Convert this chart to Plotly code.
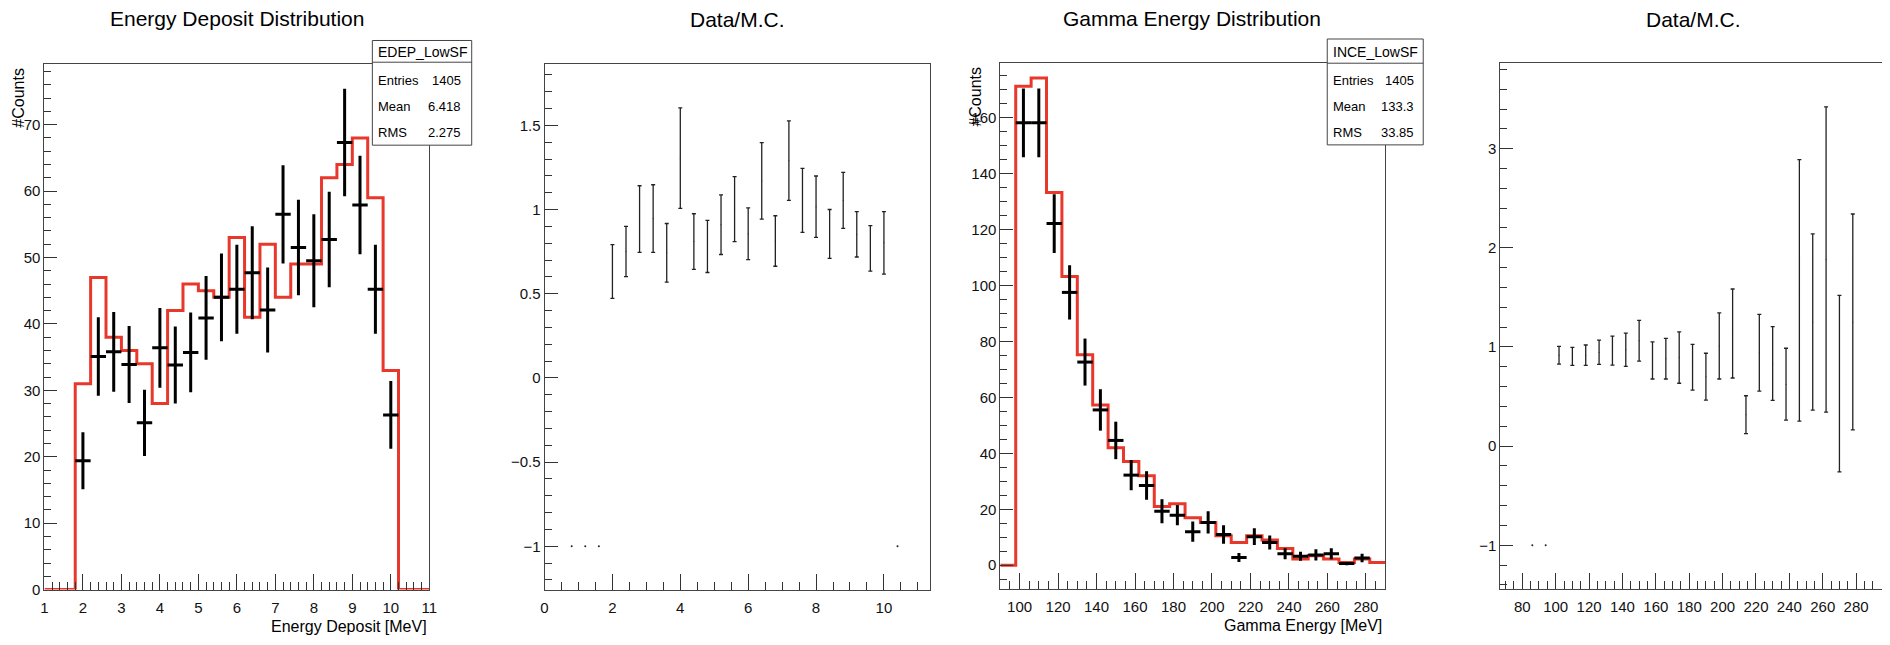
import numpy as np
import plotly.graph_objects as go

W, H = 1890, 645
FONT = "Liberation Sans, Arial, Helvetica, sans-serif"
RED = "#e8382c"

# ---------------- Panel 1: Energy deposit ----------------
edep_edges = np.round(np.linspace(1.0, 11.0, 26), 3)
edep_mc = [0, 0, 31, 47, 38, 36, 34, 28, 42, 46, 45, 44, 53, 41, 52, 44, 49, 49,
           62, 64, 68, 59, 33, 0, 0]
edep_x = [2.0, 2.4, 2.8, 3.2, 3.6, 4.0, 4.4, 4.8, 5.2, 5.6, 6.0, 6.4, 6.8, 7.2,
          7.6, 8.0, 8.4, 8.8, 9.2, 9.6, 10.0]
edep_data = [19.4, 35.1, 35.8, 33.9, 25.1, 36.4, 33.8, 35.7, 40.9, 44.0, 45.2,
             47.7, 42.1, 56.5, 51.5, 49.5, 52.7, 67.3, 57.9, 45.2, 26.3]
edep_err = [4.3, 5.9, 6.0, 5.8, 5.0, 6.0, 5.8, 6.0, 6.3, 6.6, 6.7, 7.0, 6.4,
            7.4, 7.2, 7.0, 7.2, 8.1, 7.4, 6.7, 5.1]
edep_halfbin = 0.2

# ---------------- Panel 2: Data/MC for energy deposit ----------------
edep_ratio = [0.632, 0.751, 0.943, 0.946, 0.743, 1.305, 0.810, 0.781, 0.910,
              1.002, 0.856, 1.170, 0.813, 1.290, 1.054, 1.017, 0.855, 1.054,
              0.853, 0.769, 0.802]
edep_ratio_err = [0.160, 0.149, 0.198, 0.201, 0.174, 0.298, 0.165, 0.155, 0.177,
                  0.193, 0.154, 0.227, 0.150, 0.236, 0.190, 0.182, 0.145, 0.166,
                  0.135, 0.135, 0.186]
edep_empty_x = [0.8, 1.2, 1.6, 10.4]
edep_empty_y = [-1, -1, -1, -1]

# ---------------- Panel 3: Gamma energy ----------------
gam_edges = np.round(np.linspace(90.0, 290.0, 26), 3)
gam_mc = [0, 171.2, 174.1, 133.2, 103.2, 75.2, 57.3, 42.0, 37.1, 32.0, 21.0,
          22.0, 17.0, 15.3, 10.5, 8.1, 10.5, 9.0, 6.0, 2.2, 3.4, 2.2, 1.0, 2.2, 1.0]
gam_x = [102, 110, 118, 126, 134, 142, 150, 158, 166, 174, 182, 190, 198, 206,
         214, 222, 230, 238, 246, 254, 262, 270, 278]
gam_data = [158.1, 158.1, 122.1, 97.5, 72.6, 55.5, 44.6, 32.2, 28.5, 19.3, 17.9,
            12.0, 15.3, 11.0, 2.8, 10.2, 8.1, 4.1, 3.2, 3.7, 4.1, 0.6, 2.6]
gam_err = [12.3, 12.3, 10.5, 9.7, 8.4, 7.4, 6.7, 5.4, 5.1, 4.3, 3.6, 3.6, 4.0,
           3.3, 1.6, 3.0, 2.5, 2.0, 1.6, 2.0, 2.0, 0.6, 1.5]
gam_halfbin = 4.0

# ---------------- Panel 4: Data/MC for gamma energy ----------------
gam_ratio = [0.917, 0.905, 0.917, 0.947, 0.963, 0.972, 1.063, 0.864, 0.882,
             0.893, 0.796, 0.701, 1.010, 1.136, 0.317, 0.942, 0.834, 0.625,
             1.571, 1.252, 1.882, 0.631, 1.252]
gam_ratio_err = [0.090, 0.091, 0.103, 0.123, 0.146, 0.168, 0.206, 0.187, 0.205,
                 0.259, 0.231, 0.236, 0.333, 0.449, 0.191, 0.387, 0.372, 0.362,
                 1.318, 0.889, 1.539, 0.890, 1.089]
gam_empty_x = [86, 94]
gam_empty_y = [-1, -1]


def px(x):
    return x / W


def py(y):
    return 1 - y / H


fig = go.Figure()

# Panel 1
fig.add_trace(go.Scatter(x=list(edep_edges), y=edep_mc + [edep_mc[-1]], mode="lines",
                         line=dict(shape="hv", color=RED, width=3),
                         xaxis="x", yaxis="y", hoverinfo="skip"))
fig.add_trace(go.Scatter(x=edep_x, y=edep_data, mode="markers",
                         marker=dict(size=1, color="black"),
                         error_x=dict(type="constant", value=edep_halfbin, thickness=3,
                                      width=0, color="black"),
                         error_y=dict(type="data", array=edep_err, thickness=3,
                                      width=0, color="black"),
                         xaxis="x", yaxis="y"))
# Panel 2
fig.add_trace(go.Scatter(x=edep_x, y=edep_ratio, mode="markers",
                         marker=dict(size=1, color="#222"),
                         error_y=dict(type="data", array=edep_ratio_err, thickness=1.3,
                                      width=2, color="#222"),
                         xaxis="x2", yaxis="y2"))
fig.add_trace(go.Scatter(x=edep_empty_x, y=edep_empty_y, mode="markers",
                         marker=dict(size=2, color="#222"), xaxis="x2", yaxis="y2"))
# Panel 3
fig.add_trace(go.Scatter(x=list(gam_edges), y=gam_mc + [gam_mc[-1]], mode="lines",
                         line=dict(shape="hv", color=RED, width=3),
                         xaxis="x3", yaxis="y3", hoverinfo="skip"))
fig.add_trace(go.Scatter(x=gam_x, y=gam_data, mode="markers",
                         marker=dict(size=1, color="black"),
                         error_x=dict(type="constant", value=gam_halfbin, thickness=3,
                                      width=0, color="black"),
                         error_y=dict(type="data", array=gam_err, thickness=3,
                                      width=0, color="black"),
                         xaxis="x3", yaxis="y3"))
# Panel 4
fig.add_trace(go.Scatter(x=gam_x, y=gam_ratio, mode="markers",
                         marker=dict(size=1, color="#222"),
                         error_y=dict(type="data", array=gam_ratio_err, thickness=1.3,
                                      width=2, color="#222"),
                         xaxis="x4", yaxis="y4"))
fig.add_trace(go.Scatter(x=gam_empty_x, y=gam_empty_y, mode="markers",
                         marker=dict(size=2, color="#222"), xaxis="x4", yaxis="y4"))


def axis(domain, rng, dtick, tick0, mdtick, majlen, minlen, anchor, mirror=True,
         standoff=None):
    d = dict(domain=domain, range=rng, dtick=dtick, tick0=tick0, ticks="inside",
             ticklen=majlen, tickwidth=1, tickcolor="#333",
             minor=dict(dtick=mdtick, tick0=tick0, ticks="inside", ticklen=minlen,
                        tickwidth=1, tickcolor="#333"),
             showline=True, linecolor="#444", linewidth=1, mirror=mirror,
             showgrid=False, zeroline=False, anchor=anchor, fixedrange=True,
             tickfont=dict(family=FONT, size=15, color="#111"))
    if standoff is not None:
        d["ticklabelstandoff"] = standoff
    return d


yd12 = [py(597), py(65)]
yd3 = [py(596.7), py(64)]
yd4 = [py(596), py(64)]

fig.update_layout(
    width=W, height=H, margin=dict(l=0, r=0, t=0, b=0),
    paper_bgcolor="white", plot_bgcolor="white", showlegend=False,
    xaxis=axis([px(40.7), px(428)], [1, 11], 1, 0, 0.2, 16, 8, "y", standoff=4),
    yaxis=axis(yd12, [0, 79.1], 10, 0, 2, 13, 7, "x"),
    xaxis2=axis([px(544), px(932)], [0, 11.36], 2, 0, 0.5, 16, 8, "y2", standoff=4),
    yaxis2=axis(yd12, [-1.257, 1.863], 0.5, 0, 0.1, 13, 7, "x2"),
    xaxis3=axis([px(1002.7), px(1390)], [90, 290], 20, 0, 5, 16, 8, "y3", standoff=4),
    yaxis3=axis(yd3, [-8.6, 179.4], 20, 0, 5, 13, 7, "x3"),
    xaxis4=axis([px(1506), 1.0], [66.9, 295.5], 20, 0, 5, 16, 8, "y4", standoff=4),
    yaxis4=axis(yd4, [-1.437, 3.862], 1, 0, 0.2, 13, 7, "x4", mirror=False),
)

ann = []


def text(x, y, s, size, xanchor="center", angle=0):
    ann.append(dict(x=px(x), y=py(y), xref="paper", yref="paper", text=s,
                    showarrow=False, xanchor=xanchor, yanchor="middle",
                    textangle=angle, font=dict(family=FONT, size=size, color="black")))


# titles
text(234, 19, "Energy Deposit Distribution", 21)
text(738, 20, "Data/M.C.", 21)
text(1196, 19, "Gamma Energy Distribution", 21)
text(1700, 20, "Data/M.C.", 21)
# axis titles
text(428, 634, "Energy Deposit [MeV]", 16, xanchor="right")
text(1389, 633, "Gamma Energy [MeV]", 16, xanchor="right")
text(15, 99, "#Counts", 16, angle=-90)
text(977.5, 97.5, "#Counts", 16, angle=-90)

shapes = []


def statbox(x0, x1, y0, y1, ysep, name, rows, lx, rx):
    shapes.append(dict(type="rect", xref="paper", yref="paper", x0=px(x0), x1=px(x1),
                       y0=py(y1), y1=py(y0), fillcolor="white",
                       line=dict(color="#444", width=1), layer="above"))
    shapes.append(dict(type="line", xref="paper", yref="paper", x0=px(x0), x1=px(x1),
                       y0=py(ysep), y1=py(ysep), line=dict(color="#444", width=1),
                       layer="above"))
    text((x0 + x1) / 2, (y0 + ysep) / 2 + 0.5, name, 14)
    for (lab, val), yy in zip(rows, [81.3, 107.7, 134.0]):
        text(lx, yy, lab, 13, xanchor="left")
        text(rx, yy, val, 13, xanchor="right")


statbox(370.7, 470.7, 41, 147, 63, "EDEP_LowSF",
        [("Entries", "1405"), ("Mean", "6.418"), ("RMS", "2.275")], 374.5, 462)
statbox(1331.7, 1428.3, 39.5, 146.7, 64, "INCE_LowSF",
        [("Entries", "1405"), ("Mean", "133.3"), ("RMS", "33.85")], 1335.5, 1421.5)

fig.update_layout(annotations=ann, shapes=shapes)
fig.write_html("out.html")
